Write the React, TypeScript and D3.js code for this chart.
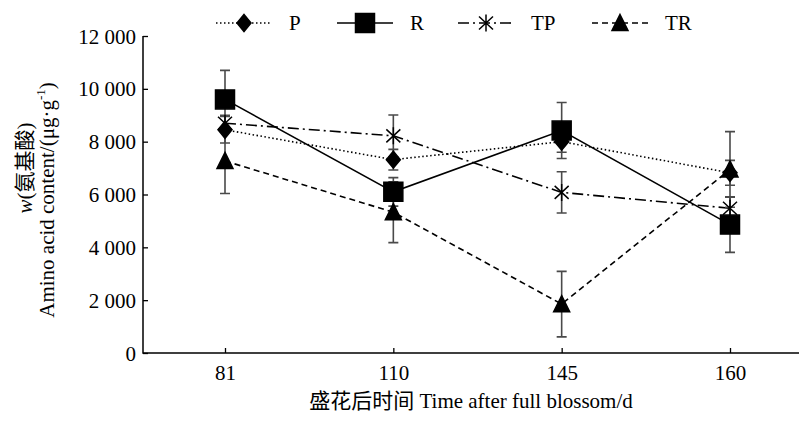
import * as d3 from "d3";
import { useRef, useEffect } from "react";

const days = ["81", "110", "145", "160"];
const yTicks = [0, 2000, 4000, 6000, 8000, 10000, 12000];

const pMean = [8450, 7320, 8000, 6820];
const pErr = [500, 390, 400, 470];
const rMean = [9600, 6100, 8420, 4860];
const rErr = [1100, 540, 1060, 1050];
const tpMean = [8700, 8220, 6080, 5480];
const tpErr = [300, 790, 780, 420];
const trMean = [7270, 5330, 1850, 6950];
const trErr = [1230, 1150, 1240, 1430];

const FONT = "'Liberation Serif', 'Times New Roman', 'Noto Sans CJK SC', serif";
const FS = 21;

const series = [
  { name: "P", mean: pMean, err: pErr, dash: "1.5,2.5", marker: "diamond" },
  { name: "R", mean: rMean, err: rErr, dash: "none", marker: "square" },
  { name: "TP", mean: tpMean, err: tpErr, dash: "11,4,2,4", marker: "star" },
  { name: "TR", mean: trMean, err: trErr, dash: "6,4", marker: "triangle" },
];

const markerPath = (type) => {
  if (type === "diamond") return "M0,-8.5L7,0L0,8.5L-7,0Z";
  if (type === "square") return "M-9.5,-9.5H9.5V9.5H-9.5Z";
  if (type === "triangle") return "M0,-8.5L8,7.5H-8Z";
  return "M0,-8.5V8.5M-7,-6.5L7,6.5M-7,6.5L7,-6.5";
};

const AminoChart = () => {
  const svgRef = useRef(null);
  const width = 808;
  const height = 422;

  useEffect(() => {
    const x = d3.scalePoint().domain(days).range([225, 730]);
    const y = d3.scaleLinear().domain([0, 12000]).range([353, 36]);

    const svg = d3.select(svgRef.current);
    svg.selectAll("*").remove();

    // axes (ticks point inward)
    const yAxis = svg
      .append("g")
      .attr("transform", "translate(143,0)")
      .call(
        d3
          .axisRight(y)
          .tickValues(yTicks)
          .tickSize(5)
          .tickSizeOuter(0)
          .tickFormat((v) => d3.format(",")(v).replace(",", " "))
      );
    yAxis.select(".domain").remove();
    yAxis.selectAll("line").attr("stroke", "#000").attr("stroke-width", 1.3);
    yAxis
      .selectAll("text")
      .attr("x", -7)
      .attr("dy", "0.34em")
      .attr("text-anchor", "end")
      .attr("font-family", FONT)
      .attr("font-size", FS)
      .attr("fill", "#000");

    const xAxis = svg
      .append("g")
      .attr("transform", "translate(0,353)")
      .call(d3.axisTop(x).tickSize(5).tickSizeOuter(0));
    xAxis.select(".domain").remove();
    xAxis.selectAll("line").attr("stroke", "#000").attr("stroke-width", 1.3);
    xAxis
      .selectAll("text")
      .attr("y", 27)
      .attr("dy", 0)
      .attr("font-family", FONT)
      .attr("font-size", FS)
      .attr("fill", "#000");

    svg
      .append("path")
      .attr("d", "M143,36V353H799")
      .attr("fill", "none")
      .attr("stroke", "#000")
      .attr("stroke-width", 1.5);

    // lines
    series.forEach((s) => {
      svg
        .append("path")
        .datum(s.mean)
        .attr("fill", "none")
        .attr("stroke", "#000")
        .attr("stroke-width", 1.6)
        .attr("stroke-dasharray", s.dash)
        .attr(
          "d",
          d3
            .line()
            .x((d, i) => x(days[i]))
            .y((d) => y(d))
        );
    });

    // error bars
    series.forEach((s) => {
      const g = svg.append("g").attr("stroke", "#4a4a4a").attr("stroke-width", 1.6);
      s.mean.forEach((m, i) => {
        const cx = x(days[i]);
        const y0 = y(m - s.err[i]);
        const y1 = y(m + s.err[i]);
        g.append("path").attr(
          "d",
          `M${cx},${y0}V${y1}M${cx - 5},${y0}H${cx + 5}M${cx - 5},${y1}H${cx + 5}`
        );
      });
    });

    // markers
    series.forEach((s) => {
      svg
        .append("g")
        .selectAll("path")
        .data(s.mean)
        .join("path")
        .attr("transform", (d, i) => `translate(${x(days[i])},${y(d)})`)
        .attr("d", markerPath(s.marker))
        .attr("fill", s.marker === "star" ? "none" : "#000")
        .attr("stroke", "#000")
        .attr("stroke-width", 1.5);
    });

    // legend
    const legX = [216, 337, 458, 592];
    const leg = svg.append("g").attr("transform", "translate(0,23)");
    series.forEach((s, i) => {
      const lx = legX[i];
      leg
        .append("path")
        .attr("d", `M${lx},0H${lx + 56}`)
        .attr("stroke", "#000")
        .attr("stroke-width", 1.6)
        .attr("stroke-dasharray", s.dash);
      leg
        .append("path")
        .attr("transform", `translate(${lx + 28},0)`)
        .attr("d", markerPath(s.marker))
        .attr("fill", s.marker === "star" ? "none" : "#000")
        .attr("stroke", "#000")
        .attr("stroke-width", 1.5);
      leg
        .append("text")
        .attr("x", lx + 73)
        .attr("y", 7)
        .attr("font-family", FONT)
        .attr("font-size", FS)
        .text(s.name);
    });

    // axis titles
    svg
      .append("text")
      .attr("x", 471)
      .attr("y", 408)
      .attr("text-anchor", "middle")
      .attr("font-family", FONT)
      .attr("font-size", FS)
      .text("盛花后时间 Time after full blossom/d");

    const t1 = svg
      .append("text")
      .attr("transform", "translate(32,168) rotate(-90)")
      .attr("text-anchor", "middle")
      .attr("font-family", FONT)
      .attr("font-size", FS);
    t1.append("tspan").attr("font-style", "italic").text("w");
    t1.append("tspan").text("(氨基酸)");

    const t2 = svg
      .append("text")
      .attr("transform", "translate(54,200) rotate(-90)")
      .attr("text-anchor", "middle")
      .attr("font-family", FONT)
      .attr("font-size", FS);
    t2.append("tspan").text("Amino acid content/(μg·g");
    t2.append("tspan").attr("font-size", 13).attr("dy", -9).text("-1");
    t2.append("tspan").attr("dy", 9).text(")");
  }, []);

  return <svg ref={svgRef} width={width} height={height} style={{ display: "block" }} />;
};

export default function App() {
  return (
    <div style={{ margin: -8 }}>
      <AminoChart />
    </div>
  );
}
